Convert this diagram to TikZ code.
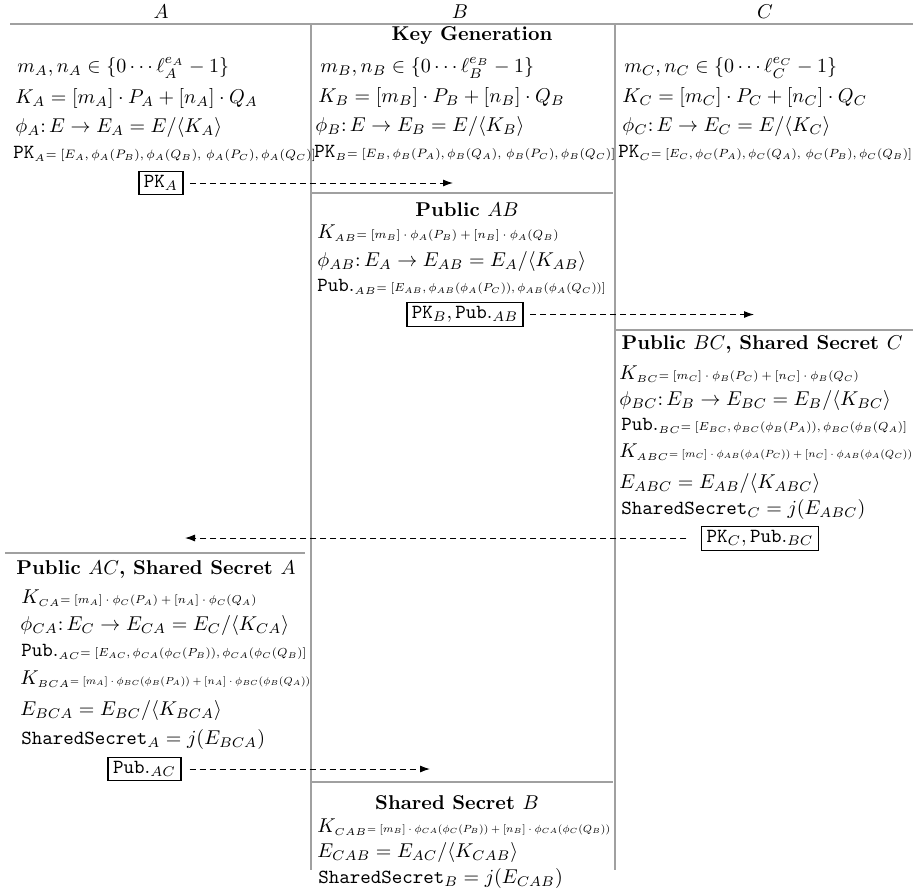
\documentclass[tikz,border=0pt]{standalone}
\usetikzlibrary{arrows.meta}
\definecolor{sepGrey}{HTML}{A0A0A0}
% small right-hand side of a formula, fitted to a given width
\newcommand{\eqpart}[2]{{\scriptsize\resizebox{#1}{!}{$#2$}}}
% tiny index in front of such a right-hand side
\newcommand{\ix}[1]{{\scriptscriptstyle #1}}
\tikzset{
  party label/.style={inner sep=0pt},
  step text/.style={anchor=west, inner sep=0pt},
  phase title/.style={font=\bfseries, inner sep=0pt},
  sep line/.style={draw=sepGrey, line width=0.7pt},
  msg box/.style={draw, line width=0.8pt, inner xsep=2.5pt, inner ysep=2pt},
  msg arrow/.style={dash pattern=on 3pt off 2pt, line width=0.5pt,
    -{Latex[length=5pt,width=3.5pt]}, shorten <=#1},
  msg arrow/.default=3pt,
}

\begin{document}
\begin{tikzpicture}[x=0.5pt, y=-0.5pt]
\useasboundingbox (0,0) rectangle (914,895);

% parties
\foreach \p/\x in {A/161, B/460, C/765}
  \node[party label] (hdr\p) at (\x, 12) {$\p$};

% column rules
\draw[sep line] (10,24) -- (913,24);
\foreach \x in {311, 615}
  \draw[sep line] (\x,24) -- (\x,870);

% phase rules
\draw[sep line] (311,193) -- (613,193);
\draw[sep line] (615,330) -- (913,330);
\draw[sep line] (5,553) -- (305,553);
\draw[sep line] (311,782) -- (613,782);

%% Key generation ==================================================
\node[phase title] (titleKG) at (472,36) {Key Generation};

% A
\node[step text] (a1) at (17,68) {$m_A, n_A \in \{0\cdots\ell_A^{e_A}-1\}$};
\node[step text] (a2) at (15,98) {$K_A = [m_A]\cdot P_A + [n_A]\cdot Q_A$};
\node[step text] (a3) at (15,127) {$\phi_A\colon E \rightarrow E_A = E/\langle K_A\rangle$};
\node[step text] (a4) at (13,154)
  {$\mathtt{PK}_{\ix{A}}$\eqpart{135pt}{= [E_A, \phi_A(P_B), \phi_A(Q_B),\, \phi_A(P_C), \phi_A(Q_C)]}};
\node[msg box] (boxA) at (161,183) {$\mathtt{PK}_A$};

% B
\node[step text] (b1) at (320,68) {$m_B, n_B \in \{0\cdots\ell_B^{e_B}-1\}$};
\node[step text] (b2) at (318,97) {$K_B = [m_B]\cdot P_B + [n_B]\cdot Q_B$};
\node[step text] (b3) at (315,126) {$\phi_B\colon E \rightarrow E_B = E/\langle K_B\rangle$};
\node[step text] (b4) at (314,153)
  {$\mathtt{PK}_{\ix{B}}$\eqpart{134pt}{= [E_B, \phi_B(P_A), \phi_B(Q_A),\, \phi_B(P_C), \phi_B(Q_C)]}};

% C
\node[step text] (c1) at (624,68) {$m_C, n_C \in \{0\cdots\ell_C^{e_C}-1\}$};
\node[step text] (c2) at (622,97) {$K_C = [m_C]\cdot P_C + [n_C]\cdot Q_C$};
\node[step text] (c3) at (622,126) {$\phi_C\colon E \rightarrow E_C = E/\langle K_C\rangle$};
\node[step text] (c4) at (618,153)
  {$\mathtt{PK}_{\ix{C}}$\eqpart{130.5pt}{= [E_C, \phi_C(P_A), \phi_C(Q_A),\, \phi_C(P_B), \phi_C(Q_B)]}};

\coordinate (tipA) at (453,183);
\draw[msg arrow] (boxA.east) -- (tipA);

%% Public AB =======================================================
\node[phase title] (titleAB) at (467,210) {Public $AB$};
\node[step text] (b5) at (317,233)
  {$K_{\ix{AB}}$\eqpart{101pt}{= [m_B]\cdot\phi_A(P_B) + [n_B]\cdot\phi_A(Q_B)}};
\node[step text] (b6) at (317,261) {$\phi_{AB}\colon E_A \rightarrow E_{AB} = E_A/\langle K_{AB}\rangle$};
\node[step text] (b7) at (317,287)
  {$\mathtt{Pub.}_{\ix{AB}}$\eqpart{114.5pt}{= [E_{AB}, \phi_{AB}(\phi_A(P_C)), \phi_{AB}(\phi_A(Q_C))]}};
\node[msg box] (boxB) at (465,314.5) {$\mathtt{PK}_B, \mathtt{Pub.}_{AB}$};

\coordinate (tipB) at (754,314.5);
\draw[msg arrow] (boxB.east) -- (tipB);

%% Public BC, shared secret C ======================================
\node[phase title] (titleBC) at (762,344) {Public $BC$, Shared Secret $C$};
\node[step text] (c5) at (619,374)
  {$K_{\ix{BC}}$\eqpart{100pt}{= [m_C]\cdot\phi_B(P_C) + [n_C]\cdot\phi_B(Q_C)}};
\node[step text] (c6) at (619,400) {$\phi_{BC}\colon E_B \rightarrow E_{BC} = E_B/\langle K_{BC}\rangle$};
\node[step text] (c7) at (621,426)
  {$\mathtt{Pub.}_{\ix{BC}}$\eqpart{113pt}{= [E_{BC}, \phi_{BC}(\phi_B(P_A)), \phi_{BC}(\phi_B(Q_A)]}};
\node[step text] (c8) at (619,452)
  {$K_{\ix{ABC}}$\eqpart{121.5pt}{= [m_C]\cdot\phi_{AB}(\phi_A(P_C)) + [n_C]\cdot\phi_{AB}(\phi_A(Q_C))}};
\node[step text] (c9) at (619,483) {$E_{ABC} = E_{AB}/\langle K_{ABC}\rangle$};
\node[step text] (c10) at (621,509) {$\mathtt{SharedSecret}_C = j(E_{ABC})$};
\node[msg box, line width=0.4pt] (boxC) at (760,538) {$\mathtt{PK}_C, \mathtt{Pub.}_{BC}$};

\coordinate (tipC) at (185,538);
\draw[msg arrow=7.5pt] (boxC.west) -- (tipC);

%% Public AC, shared secret A ======================================
\node[phase title] (titleAC) at (156,569) {Public $AC$, Shared Secret $A$};
\node[step text] (a5) at (21,598)
  {$K_{\ix{CA}}$\eqpart{98pt}{= [m_A]\cdot\phi_C(P_A) + [n_A]\cdot\phi_C(Q_A)}};
\node[step text] (a6) at (20,625) {$\phi_{CA}\colon E_C \rightarrow E_{CA} = E_C/\langle K_{CA}\rangle$};
\node[step text] (a7) at (21,652)
  {$\mathtt{Pub.}_{\ix{AC}}$\eqpart{113pt}{= [E_{AC}, \phi_{CA}(\phi_C(P_B)), \phi_{CA}(\phi_C(Q_B)]}};
\node[step text] (a8) at (20,679)
  {$K_{\ix{BCA}}$\eqpart{120pt}{= [m_A]\cdot\phi_{BC}(\phi_B(P_A)) + [n_A]\cdot\phi_{BC}(\phi_B(Q_A))}};
\node[step text] (a9) at (20,710) {$E_{BCA} = E_{BC}/\langle K_{BCA}\rangle$};
\node[step text] (a10) at (21,739) {$\mathtt{SharedSecret}_A = j(E_{BCA})$};
\node[msg box] (boxA2) at (144.5,769) {$\mathtt{Pub.}_{AC}$};

\coordinate (tipA2) at (430,769);
\draw[msg arrow=4pt] (boxA2.east) -- (tipA2);

%% Shared secret B =================================================
\node[phase title] (titleSB) at (457,803) {Shared Secret $B$};
\node[step text] (b8) at (317,827)
  {$K_{\ix{CAB}}$\eqpart{121.5pt}{= [m_B]\cdot\phi_{CA}(\phi_C(P_B)) + [n_B]\cdot\phi_{CA}(\phi_C(Q_B))}};
\node[step text] (b9) at (317,852) {$E_{CAB} = E_{AC}/\langle K_{CAB}\rangle$};
\node[step text] (b10) at (318,878) {$\mathtt{SharedSecret}_B = j(E_{CAB})$};

\end{tikzpicture}
\end{document}
